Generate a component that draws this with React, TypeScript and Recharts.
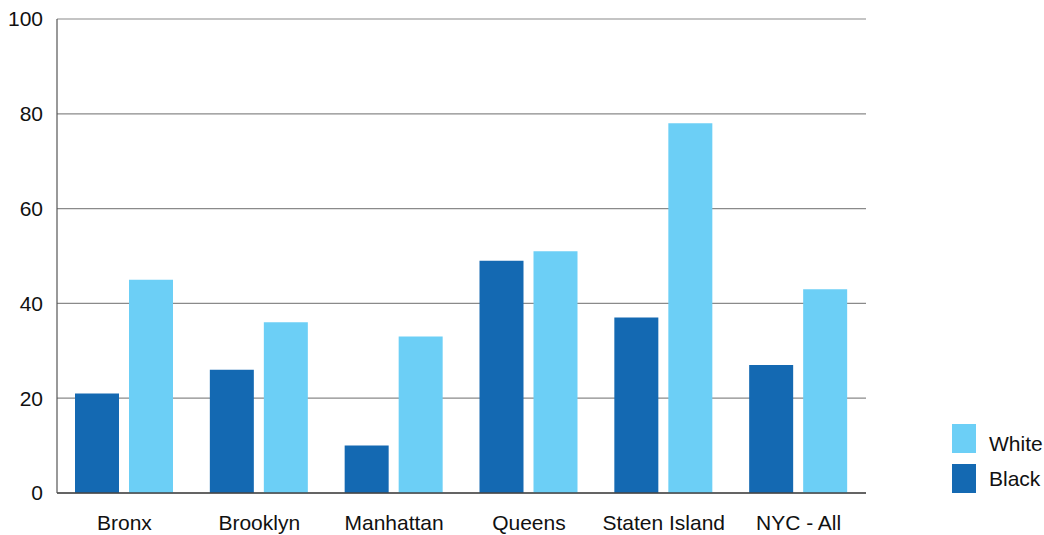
import React from 'react';
import { BarChart, Bar, XAxis, YAxis, CartesianGrid } from 'recharts';

const categories = ['Bronx', 'Brooklyn', 'Manhattan', 'Queens', 'Staten Island', 'NYC - All'];
const blackValues = [21, 26, 10, 49, 37, 27];
const whiteValues = [45, 36, 33, 51, 78, 43];
const yTicks = [0, 20, 40, 60, 80, 100];

const BLACK_COLOR = '#1469B2';
const WHITE_COLOR = '#6CCFF6';
const FONT = '"Liberation Sans", Arial, Helvetica, sans-serif';

const data = categories.map((name, i) => ({ name, Black: blackValues[i], White: whiteValues[i] }));

const legendItems = [
  { label: 'White', color: WHITE_COLOR, top: 424, textTop: 432 },
  { label: 'Black', color: BLACK_COLOR, top: 464, textTop: 467 },
];

export default function App() {
  return (
    <div style={{ position: 'absolute', left: 0, top: 0, width: 1044, height: 535, fontFamily: FONT, background: '#fff' }}>
      <BarChart
        width={1044}
        height={535}
        data={data}
        margin={{ top: 19, right: 178, bottom: 0, left: 0 }}
        barGap={10}
        barSize={44}
      >
        <CartesianGrid vertical={false} stroke="#8a8a8a" strokeWidth={1.2} />
        <XAxis
          dataKey="name"
          height={42}
          tickLine={false}
          axisLine={{ stroke: '#444', strokeWidth: 1.5 }}
          tick={{ fill: '#111', fontSize: 21, fontFamily: FONT }}
          tickMargin={16}
        />
        <YAxis
          width={57}
          domain={[0, 100]}
          ticks={yTicks}
          interval={0}
          tickLine={false}
          axisLine={{ stroke: '#555', strokeWidth: 1.2 }}
          tick={{ fill: '#111', fontSize: 21, fontFamily: FONT }}
          tickMargin={8}
        />
        <Bar dataKey="Black" fill={BLACK_COLOR} isAnimationActive={false} />
        <Bar dataKey="White" fill={WHITE_COLOR} isAnimationActive={false} />
      </BarChart>
      {legendItems.map((it) => (
        <React.Fragment key={it.label}>
          <div style={{ position: 'absolute', left: 952, top: it.top, width: 24, height: 29, background: it.color }} />
          <div style={{ position: 'absolute', left: 989, top: it.textTop, fontSize: 21, lineHeight: '24px', color: '#111' }}>{it.label}</div>
        </React.Fragment>
      ))}
    </div>
  );
}
